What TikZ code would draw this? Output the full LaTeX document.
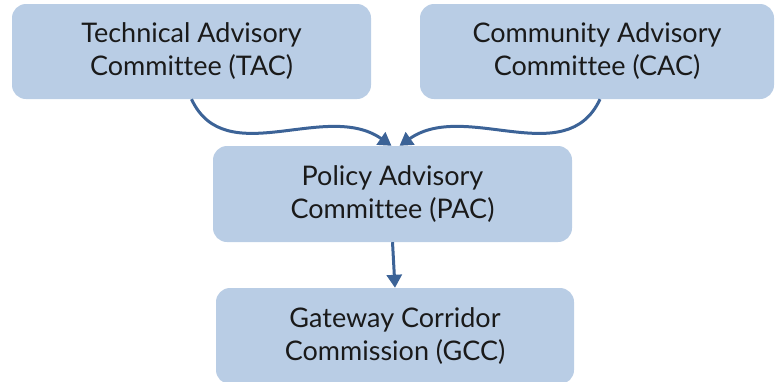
\documentclass[tikz,border=0pt]{standalone}
\usepackage{fontspec}
\setmainfont{Lato}[Ligatures=NoCommon]
\usetikzlibrary{arrows.meta}
\definecolor{boxfill}{HTML}{B9CDE5}
\definecolor{flow}{HTML}{3C6397}
\definecolor{ink}{HTML}{1A1A1A}
\begin{document}
\begin{tikzpicture}[x=1pt,y=1pt,
  panel/.style={fill=boxfill, rounded corners=14pt, minimum height=95pt,
    inner sep=0pt, align=center, text=ink,
    font=\fontsize{27}{33}\selectfont},
  link/.style={draw=flow, line width=3pt,
    -{Triangle[length=13pt,width=15pt]}}]
\useasboundingbox (0,0) rectangle (775,-381);
\clip (0,0) rectangle (775,-381);
\node[panel, minimum width=359pt] (tac) at (191.5,-51.5) {Technical Advisory\\Committee (TAC)};
\node[panel, minimum width=354pt] (cac) at (597,-51.5) {Community Advisory\\Committee (CAC)};
\node[panel, minimum width=359pt, minimum height=96pt] (pac) at (392.5,-194) {Policy Advisory\\Committee (PAC)};
\node[panel, minimum width=358pt, minimum height=96pt] (gcc) at (395,-336) {Gateway Corridor\\Commission (GCC)};
\draw[link] (tac.south) to[out=-65, in=145] ([xshift=-1pt]pac.north);
\draw[link] ([xshift=3pt]cac.south) to[out=-115, in=35] ([xshift=7pt]pac.north);
\draw[link] (pac.south) -- (gcc.north);
\end{tikzpicture}
\end{document}
